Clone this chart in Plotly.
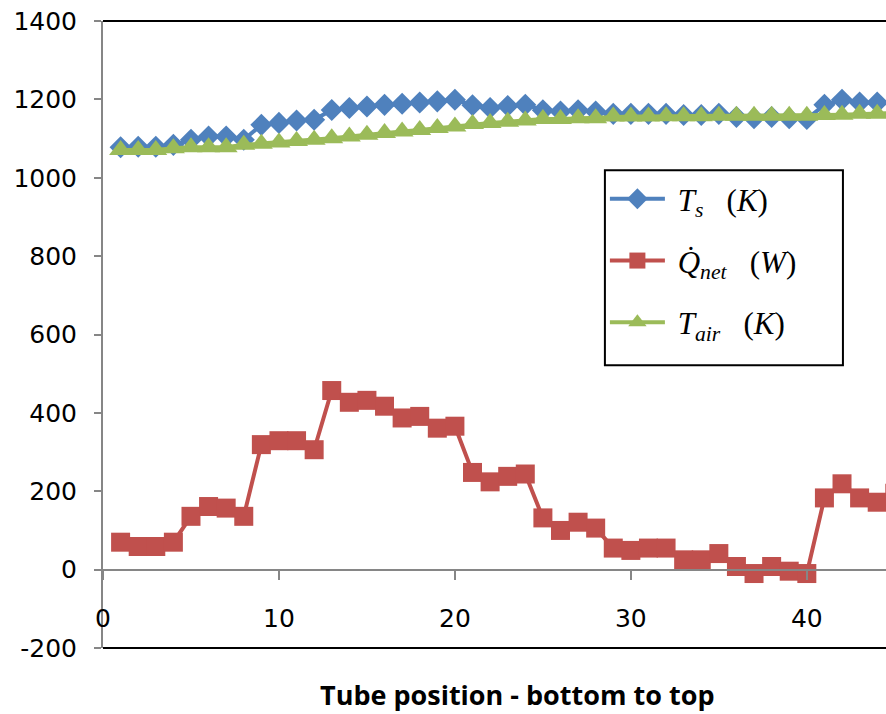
import plotly.graph_objects as go

positions = list(range(1, 46))
t_s = [1078, 1079, 1079, 1084, 1097, 1105, 1105, 1097, 1135, 1140, 1146, 1148,
       1173, 1178, 1182, 1186, 1189, 1192, 1195, 1199, 1185, 1178, 1183, 1186,
       1172, 1169, 1172, 1169, 1163, 1163, 1163, 1163, 1160, 1160, 1163, 1155,
       1152, 1155, 1152, 1150, 1186, 1199, 1192, 1192, 1190]
q_net = [70, 59, 59, 70, 136, 161, 157, 136, 319, 329, 329, 306, 457, 427, 432,
         417, 387, 391, 361, 366, 248, 224, 238, 244, 132, 100, 121, 106, 55, 49,
         55, 55, 25, 25, 41, 8, -10, 8, -4, -10, 183, 219, 183, 172, 195]
t_air = [1071, 1071, 1071, 1075, 1078, 1078, 1078, 1084, 1087, 1090, 1094, 1097,
         1101, 1105, 1110, 1114, 1118, 1122, 1127, 1131, 1137, 1140, 1143, 1146,
         1150, 1150, 1152, 1152, 1156, 1156, 1156, 1157, 1157, 1157, 1158, 1158,
         1158, 1158, 1158, 1158, 1160, 1161, 1163, 1163, 1165]

sp = "&nbsp;&nbsp;&nbsp;"
names = ["&nbsp;<i>T<sub>s</sub></i>" + sp + "(<i>K</i>)",
         "&nbsp;<i>Q̇<sub>net</sub></i>" + sp + "(<i>W</i>)",
         "&nbsp;<i>T<sub>air</sub></i>" + sp + "(<i>K</i>)"]
x_ticks = [0, 10, 20, 30, 40]
y_ticks = [-200, 0, 200, 400, 600, 800, 1000, 1200, 1400]
y_tick_text = ["-200", "0", "200", "400", "600", "800", "1000", "1200", "1400"]

fig = go.Figure()
fig.add_trace(go.Scatter(x=positions, y=t_s, name=names[0], mode="lines+markers",
                         line=dict(color="#4F81BD", width=4),
                         marker=dict(symbol="diamond", size=17, color="#4F81BD"),
                         legendgroup="a"))
fig.add_trace(go.Scatter(x=positions, y=q_net, name=names[1], mode="lines+markers",
                         line=dict(color="#C0504D", width=4),
                         marker=dict(symbol="square", size=19, color="#C0504D"),
                         legendgroup="b"))
fig.add_trace(go.Scatter(x=positions, y=t_air, name=names[2], mode="lines+markers",
                         line=dict(color="#9BBB59", width=4),
                         marker=dict(symbol="triangle-up", size=20, color="#9BBB59"),
                         legendgroup="c"))

axis_font = dict(family="DejaVu Sans", size=25, color="#000000")
fig.update_layout(
    width=886, height=714,
    margin=dict(l=103, r=0, t=21, b=66),
    paper_bgcolor="white", plot_bgcolor="white",
    showlegend=True,
    legend=dict(x=0.641, y=0.759, xanchor="left", yanchor="top",
                bgcolor="rgba(0,0,0,0)", borderwidth=0,
                font=dict(family="Liberation Serif", size=31, color="black"),
                traceorder="grouped", tracegroupgap=18.5, itemwidth=55),
    xaxis=dict(range=[0, 44.5], tickvals=x_ticks, showgrid=False, zeroline=False,
               showline=True, linecolor="#868686", linewidth=2,
               ticks="outside", ticklen=9, tickwidth=2, tickcolor="#868686",
               tickfont=axis_font, anchor="free", position=0.125,
               ticklabelstandoff=17),
    yaxis=dict(range=[-200, 1400], tickvals=y_ticks, ticktext=y_tick_text,
               showgrid=False, zeroline=False,
               showline=True, linecolor="#868686", linewidth=2,
               ticks="outside", ticklen=7, tickwidth=2, tickcolor="#868686",
               tickfont=axis_font, ticklabelstandoff=12),
    shapes=[
        dict(type="line", xref="paper", yref="paper", x0=0, x1=1, y0=1, y1=1,
             line=dict(color="black", width=2)),
        dict(type="line", xref="paper", yref="paper", x0=0, x1=1, y0=0, y1=0,
             line=dict(color="black", width=2)),
        dict(type="rect", xref="paper", yref="paper", x0=0.641, x1=0.945,
             y0=0.451, y1=0.762, fillcolor="white", layer="above",
             line=dict(color="black", width=2)),
    ],
    annotations=[
        dict(text="<b>Tube position - bottom to top</b>", xref="paper", yref="paper",
             x=0.529, y=0, yshift=-46, xanchor="center", yanchor="middle",
             showarrow=False, font=dict(family="Open Sans", size=27, color="black")),
    ],
)

fig.write_html("out.html")
